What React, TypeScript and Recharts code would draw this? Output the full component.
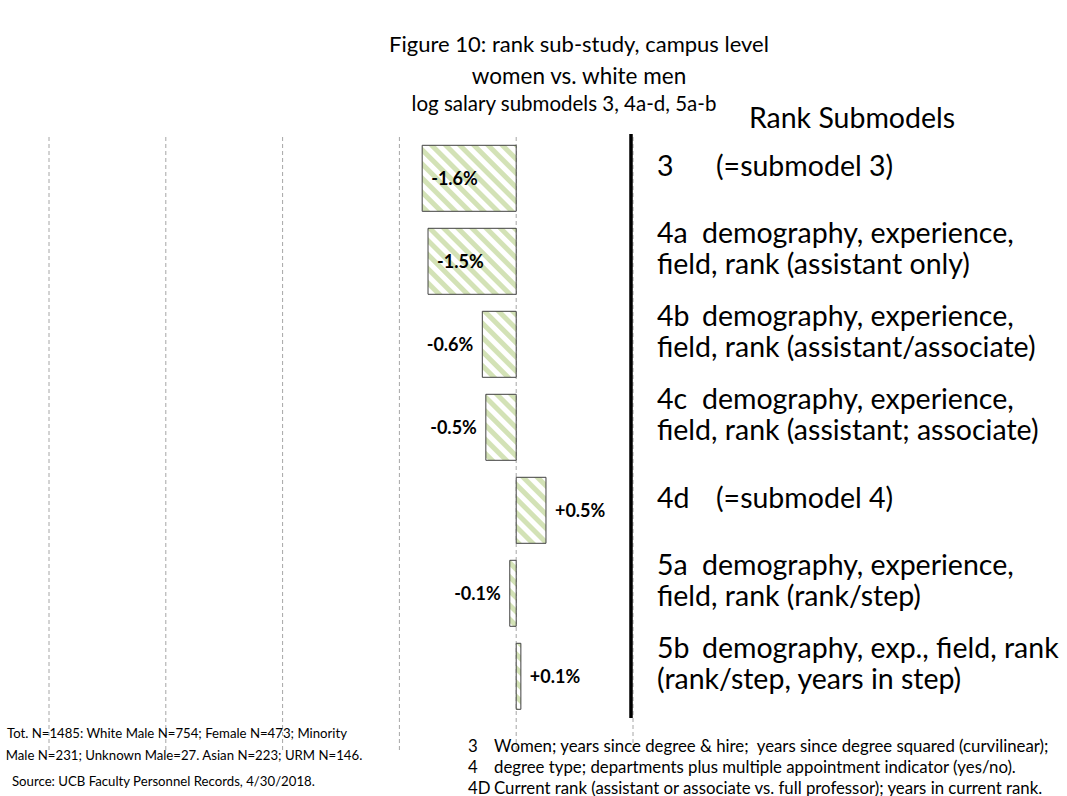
import React from 'react';
import { BarChart, Bar, XAxis, YAxis, CartesianGrid, ReferenceLine, LabelList } from 'recharts';

// ---- data ----
const submodels = ['3', '4a', '4b', '4c', '4d', '5a', '5b'];
const gapValues = [-1.61, -1.51, -0.58, -0.52, 0.51, -0.11, 0.08];
const descLine1 = [
  '(=submodel 3)',
  'demography, experience,',
  'demography, experience,',
  'demography, experience,',
  '(=submodel 4)',
  'demography, experience,',
  'demography, exp., field, rank',
];
const descLine2 = [
  '',
  'field, rank (assistant only)',
  'field, rank (assistant/associate)',
  'field, rank (assistant; associate)',
  '',
  'field, rank (rank/step)',
  '(rank/step, years in step)',
];
const xTicks = [-8, -6, -4, -2, 0, 2];
const titleLines = ['Figure 10: rank sub-study, campus level', 'women vs. white men'];
const subTitle = 'log salary submodels 3, 4a-d, 5a-b';
const panelTitle = 'Rank Submodels';
const leftNotes = [
  'Tot. N=1485: White Male N=754; Female N=473; Minority',
  'Male N=231; Unknown Male=27. Asian N=223; URM N=146.',
];
const sourceNote = 'Source: UCB Faculty Personnel Records, 4/30/2018.';
const footCodes = ['3', '4', '4D'];
const footTexts = [
  'Women; years since degree & hire;  years since degree squared (curvilinear);',
  'degree type; departments plus multiple appointment indicator (yes/no).',
  'Current rank (assistant or associate vs. full professor); years in current rank.',
];

const data = submodels.map((s, i) => ({ submodel: s, gap: gapValues[i] }));

const FONT = 'Lato, "Open Sans", sans-serif';
const W = 1067;
const H = 796;
const EXTRA_BOTTOM = 34;
const LINE_GAP = 31;
const SIDE_FONT = 28.5;

const fmt = (v: number) => (v > 0 ? '+' : '') + v.toFixed(1) + '%';

const GapLabel = (props: any) => {
  const { x, y, width, height, value } = props;
  const left = Math.min(x, x + width);
  const right = Math.max(x, x + width);
  const cy = y + height / 2;
  let tx = right + 9;
  let anchor: 'start' | 'end' = 'start';
  if (value < -1) {
    tx = left + 9;
  } else if (value < 0) {
    tx = left - 9;
    anchor = 'end';
  }
  return (
    <text x={tx} y={cy} textAnchor={anchor} dominantBaseline="central" fontFamily={FONT} fontSize={18} fontWeight={700} fill="#000">
      {fmt(value)}
    </text>
  );
};

const SubmodelTick = (props: any) => {
  const { x, y, payload } = props;
  const i = submodels.indexOf(payload.value);
  const first = descLine1[i];
  const second = descLine2[i];
  const n = second ? 2 : 1;
  const top = y - 14 - ((n - 1) * LINE_GAP) / 2;
  const descX = x + (first.startsWith('(') ? 59 : 45);
  return (
    <g>
      <text y={top} dominantBaseline="central" fontFamily={FONT} fontSize={SIDE_FONT} fill="#000">
        <tspan x={x}>{payload.value}</tspan>
        <tspan x={descX}>{first}</tspan>
      </text>
      {second ? (
        <text x={x} y={top + LINE_GAP} dominantBaseline="central" fontFamily={FONT} fontSize={SIDE_FONT} fill="#000">
          {second}
        </text>
      ) : null}
    </g>
  );
};

const ThickLine = (p: any) => {
  const top = Math.min(p.y1, p.y2);
  const bottom = Math.max(p.y1, p.y2);
  return <line x1={p.x1 - 2} x2={p.x2 - 2} y1={top - 3} y2={bottom - EXTRA_BOTTOM} stroke="#000" strokeWidth={3.5} />;
};

export default function App() {
  return (
    <div style={{ position: 'absolute', left: 0, top: 0, width: W, height: H, background: '#fff', fontFamily: FONT }}>
      <BarChart
        width={W}
        height={H}
        data={data}
        layout="vertical"
        margin={{ top: 137, right: 0, bottom: 44, left: 49 }}
        barCategoryGap="10%"
      >
        <defs>
          <pattern id="hatch" patternUnits="userSpaceOnUse" width="10" height="10" patternTransform="rotate(-45)">
            <rect x="0" y="0" width="10" height="10" fill="#ffffff" />
            <rect x="0" y="0" width="5" height="10" fill="#d3e2b6" />
          </pattern>
        </defs>
        <CartesianGrid horizontal={false} vertical stroke="#a6a6a6" strokeDasharray="4 3" />
        <XAxis type="number" domain={[-8, 2]} ticks={xTicks} hide />
        <YAxis
          type="category"
          dataKey="submodel"
          orientation="right"
          width={W - 633}
          axisLine={false}
          tickLine={false}
          tickSize={0}
          tickMargin={24}
          padding={{ top: 0, bottom: EXTRA_BOTTOM }}
          tick={<SubmodelTick />}
          interval={0}
        />
        <Bar dataKey="gap" fill="url(#hatch)" stroke="#404040" strokeWidth={1} isAnimationActive={false}>
          <LabelList dataKey="gap" content={<GapLabel />} />
        </Bar>
        <ReferenceLine x={2} stroke="#000" shape={<ThickLine />} ifOverflow="visible" />
      </BarChart>
      <svg width={W} height={H} style={{ position: 'absolute', left: 0, top: 0, pointerEvents: 'none' }}>
        <g fontFamily={FONT} fill="#000">
          <text x={579} y={43} textAnchor="middle" dominantBaseline="central" fontSize={22}>{titleLines[0]}</text>
          <text x={579} y={75} textAnchor="middle" dominantBaseline="central" fontSize={22.5}>{titleLines[1]}</text>
          <text x={564} y={103} textAnchor="middle" dominantBaseline="central" fontSize={20.5}>{subTitle}</text>
          <text x={852} y={117} textAnchor="middle" dominantBaseline="central" fontSize={28.5}>{panelTitle}</text>
          <text x={177} y={733} textAnchor="middle" dominantBaseline="central" fontSize={13.2}>{leftNotes[0]}</text>
          <text x={184} y={755} textAnchor="middle" dominantBaseline="central" fontSize={13.2}>{leftNotes[1]}</text>
          <text x={12} y={781} dominantBaseline="central" fontSize={13.2}>{sourceNote}</text>
          {footCodes.map((c, i) => (
            <text key={c} y={745 + i * 21} dominantBaseline="central" fontSize={16.8}>
              <tspan x={468}>{c}</tspan>
              <tspan x={494} style={{ whiteSpace: 'pre' }}>{footTexts[i]}</tspan>
            </text>
          ))}
        </g>
      </svg>
    </div>
  );
}
